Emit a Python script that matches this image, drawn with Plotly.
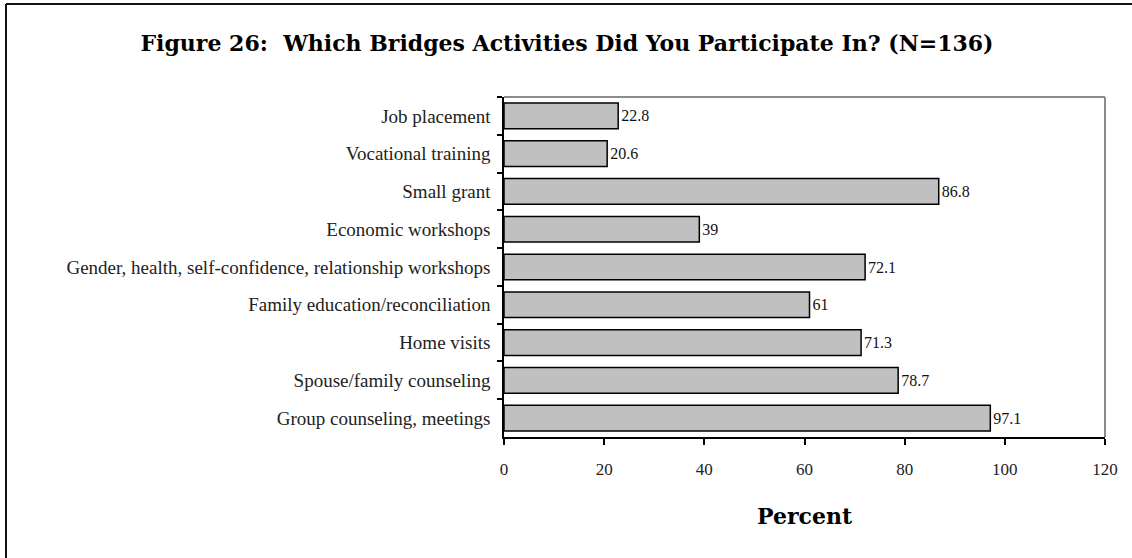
import plotly.graph_objects as go

activities = [
    "Job placement",
    "Vocational training",
    "Small grant",
    "Economic workshops",
    "Gender, health, self-confidence, relationship workshops",
    "Family education/reconciliation",
    "Home visits",
    "Spouse/family counseling",
    "Group counseling, meetings",
]
percent = [22.8, 20.6, 86.8, 39, 72.1, 61, 71.3, 78.7, 97.1]
x_ticks = [0, 20, 40, 60, 80, 100, 120]

W, H = 1132, 558
L, R, T, B = 504, 27, 97, 121
pw, ph = W - L - R, H - T - B

serif = "Liberation Serif, Times New Roman, serif"
heading = "DejaVu Serif, Liberation Serif, serif"

fig = go.Figure(
    go.Bar(
        x=percent,
        y=activities,
        orientation="h",
        marker=dict(color="#c0c0c0", line=dict(color="#000000", width=1.5)),
        text=[f"{v:g}" for v in percent],
        textposition="outside",
        textfont=dict(family=serif, size=16, color="#111111"),
        cliponaxis=False,
        width=0.68,
    )
)

fig.update_layout(
    width=W,
    height=H,
    margin=dict(l=L, r=R, t=T, b=B),
    paper_bgcolor="white",
    plot_bgcolor="white",
    showlegend=False,
    font=dict(family=serif, size=16, color="#111111"),
    title=dict(
        text="<b>Figure 26:  Which Bridges Activities Did You Participate In? (N=136)</b>",
        x=567 / W,
        xref="container",
        xanchor="center",
        y=1 - 43 / H,
        yref="container",
        yanchor="middle",
        font=dict(family=heading, size=22, color="#000000"),
    ),
    xaxis=dict(
        range=[0, 120],
        tickvals=x_ticks,
        showgrid=False,
        zeroline=False,
        showline=True,
        linecolor="#000000",
        linewidth=1.5,
        ticks="outside",
        ticklen=6,
        tickcolor="#000000",
        tickwidth=1.5,
        ticklabelstandoff=10,
        tickfont=dict(family=serif, size=17, color="#222222"),
    ),
    yaxis=dict(
        autorange="reversed",
        categoryorder="array",
        categoryarray=activities,
        showgrid=False,
        zeroline=False,
        showline=True,
        linecolor="#000000",
        linewidth=1.5,
        ticks="outside",
        tickson="boundaries",
        ticklen=5,
        tickcolor="#000000",
        tickwidth=1.5,
        ticklabelstandoff=8,
        tickfont=dict(family=serif, size=19, color="#222222"),
    ),
    annotations=[
        dict(
            text="<b>Percent</b>",
            x=0.5,
            xref="paper",
            y=(ph - (516 - T)) / ph,
            yref="paper",
            xanchor="center",
            yanchor="middle",
            showarrow=False,
            font=dict(family=heading, size=22, color="#000000"),
        )
    ],
)

# gray border on the top and right of the plot area
fig.add_shape(type="line", xref="paper", yref="paper", x0=0, x1=1, y0=1, y1=1,
              line=dict(color="#8c8c8c", width=2))
fig.add_shape(type="line", xref="paper", yref="paper", x0=1, x1=1, y0=0, y1=1,
              line=dict(color="#8c8c8c", width=2))

# outer frame (top and left edges)
fx = (6 - L) / pw
fy = (ph - (4 - T)) / ph
fig.add_shape(type="line", xref="paper", yref="paper", x0=fx, x1=(W - L) / pw, y0=fy, y1=fy,
              line=dict(color="#111111", width=2))
fig.add_shape(type="line", xref="paper", yref="paper", x0=fx, x1=fx, y0=fy, y1=-B / ph,
              line=dict(color="#111111", width=2))

fig.write_html("out.html")
